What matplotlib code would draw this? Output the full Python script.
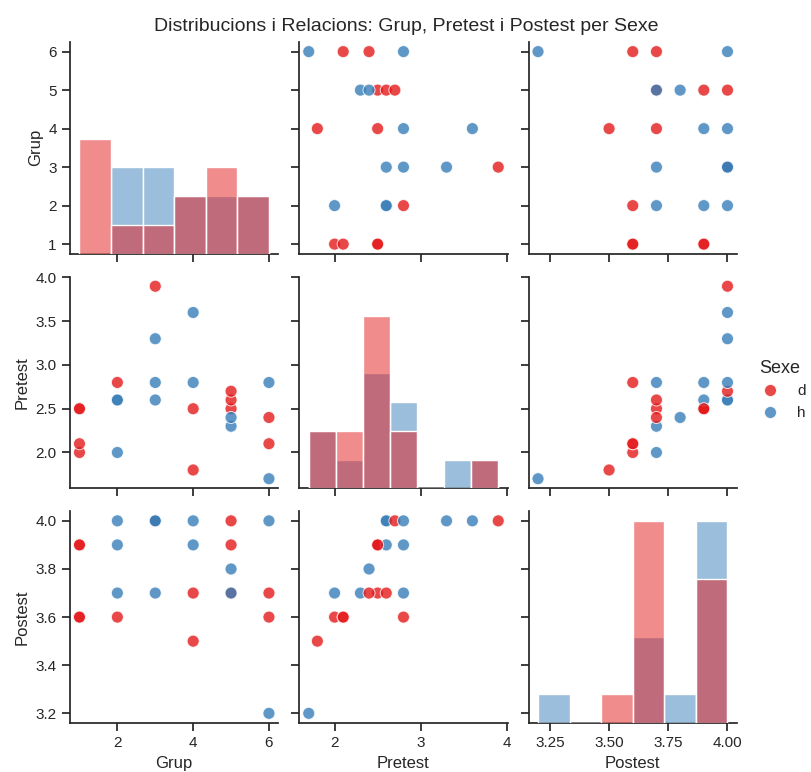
import pandas as pd
import seaborn as sns
import matplotlib.pyplot as plt

grup = [1, 1, 1, 1, 2, 2, 2, 2, 3, 3, 3, 3, 4, 4, 4, 4, 5, 5, 5, 5, 5, 6, 6, 6, 6]
sexe = ['d', 'd', 'd', 'd', 'd', 'h', 'h', 'h', 'd', 'h', 'h', 'h', 'd', 'd', 'h', 'h',
        'd', 'd', 'd', 'h', 'h', 'd', 'd', 'h', 'h']
pretest = [2.0, 2.1, 2.5, 2.5, 2.8, 2.0, 2.6, 2.6, 3.9, 2.6, 2.8, 3.3, 1.8, 2.5, 2.8, 3.6,
           2.5, 2.6, 2.7, 2.3, 2.4, 2.1, 2.4, 1.7, 2.8]
postest = [3.6, 3.6, 3.9, 3.9, 3.6, 3.7, 3.9, 4.0, 4.0, 4.0, 3.7, 4.0, 3.5, 3.7, 3.9, 4.0,
           3.9, 3.7, 4.0, 3.7, 3.8, 3.6, 3.7, 3.2, 4.0]

# tick marks as in the reference
grup_ticks_y = [1, 2, 3, 4, 5, 6]
grup_ticks_x = [2, 4, 6]
pre_ticks_x = [2, 3, 4]
pre_ticks_y = [2.0, 2.5, 3.0, 3.5, 4.0]
post_ticks_x = [3.25, 3.50, 3.75, 4.00]
post_ticks_y = [3.2, 3.4, 3.6, 3.8, 4.0]

df = pd.DataFrame({'Grup': grup, 'Pretest': pretest, 'Postest': postest, 'Sexe': sexe})

sns.set_theme(style="ticks")
plt.rcParams['font.family'] = ['Liberation Sans', 'DejaVu Sans']

g = sns.pairplot(df, hue="Sexe", palette="Set1", diag_kind="hist",
                 plot_kws=dict(s=75, alpha=0.8))

g.fig.set_size_inches(8.12, 7.72)
g.fig.subplots_adjust(left=0.0862, right=0.9076, bottom=0.0635, top=0.9456,
                      wspace=0.10, hspace=0.108)

xt = [grup_ticks_x, pre_ticks_x, post_ticks_x]
yt = [grup_ticks_y, pre_ticks_y, post_ticks_y]
for i in range(3):
    g.axes[i, 0].set_yticks(yt[i])
    g.axes[2, i].set_xticks(xt[i])
g.axes[2, 2].set_xticklabels(["%.2f" % v for v in post_ticks_x])

g.fig.suptitle("Distribucions i Relacions: Grup, Pretest i Postest per Sexe", y=0.977, fontsize=14)
leg = g._legend
leg.get_title().set_fontsize(13)
leg.set_loc("center left")
leg.set_bbox_to_anchor((0.912, 0.495))

g.fig.savefig("out.png", dpi=100)
